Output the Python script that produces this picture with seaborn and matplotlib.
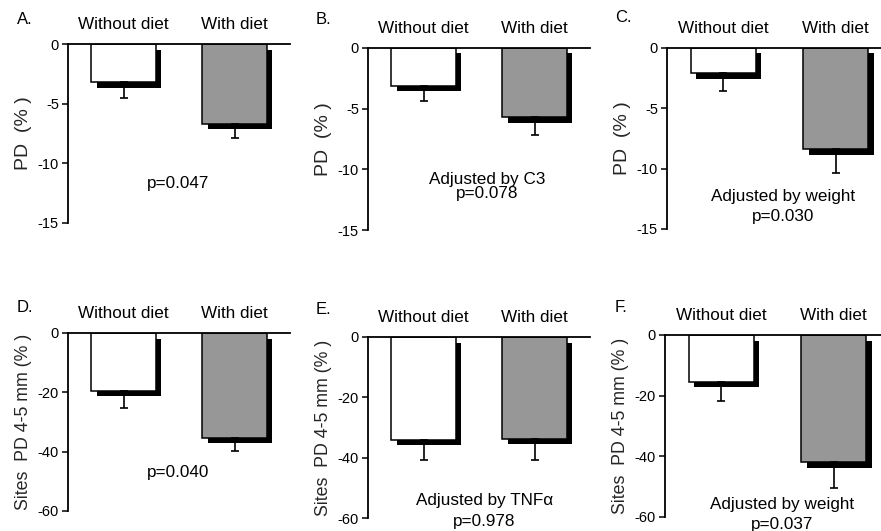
import matplotlib
matplotlib.use("Agg")
import matplotlib.pyplot as plt
from matplotlib.transforms import ScaledTranslation
import pandas as pd
import seaborn as sns

# ---- data -------------------------------------------------------------
groups = ["Without diet", "With diet"]

pd_mean_a = [-3.2, -6.7]
pd_err_a = [1.3, 1.2]
pd_mean_b = [-3.1, -5.7]
pd_err_b = [1.25, 1.5]
pd_mean_c = [-2.1, -8.4]
pd_err_c = [1.5, 2.0]

sites_mean_d = [-19.4, -35.3]
sites_err_d = [5.9, 4.5]
sites_mean_e = [-34.1, -33.8]
sites_err_e = [6.8, 6.9]
sites_mean_f = [-15.4, -41.9]
sites_err_f = [6.2, 8.7]

pd_ticks = [0, -5, -10, -15]
sites_ticks = [0, -20, -40, -60]

panel_letters = ["A.", "B.", "C.", "D.", "E.", "F."]
notes_a = ["p=0.047"]
notes_b = ["Adjusted by C3", "p=0.078"]
notes_c = ["Adjusted by weight", "p=0.030"]
notes_d = ["p=0.040"]
notes_e = ["Adjusted by TNFα", "p=0.978"]
notes_f = ["Adjusted by weight", "p=0.037"]

pd_label = "PD  (% )"
sites_label = "Sites  PD 4-5 mm (% )"

# ---- style ------------------------------------------------------------
sns.set_style("ticks")
plt.rcParams["font.family"] = ["Liberation Sans", "DejaVu Sans"]
plt.rcParams["axes.unicode_minus"] = False

W, H = 881, 531
fig = plt.figure(figsize=(W / 100, H / 100), dpi=100)


def px_axes(left, right, top, bottom):
    return fig.add_axes([left / W, (H - bottom) / H, (right - left) / W, (bottom - top) / H])


BAR_W = 0.58
SHADOW = ScaledTranslation(5.5 / 100, -5.5 / 100, fig.dpi_scale_trans)


def draw_panel(ax, means, errs, ticks, ylabel, label_size, notes, note_x, note_y):
    df = pd.DataFrame({"group": groups, "mean": means, "err": errs})
    # offset black shadow behind each bar
    sns.barplot(data=df, x="group", y="mean", color="black", width=BAR_W,
                errorbar=None, ax=ax, linewidth=0)
    for p in ax.patches:
        p.set_transform(ax.transData + SHADOW)
    # the bars themselves
    sns.barplot(data=df, x="group", y="mean", hue="group",
                palette=["white", "#979797"], width=BAR_W, errorbar=None,
                edgecolor="black", linewidth=1.1, legend=False, ax=ax)
    # lower error whiskers only
    ax.errorbar(range(len(groups)), df["mean"], yerr=[df["err"], [0] * len(groups)],
                fmt="none", ecolor="black", elinewidth=1.2, capsize=3.2,
                capthick=1.2, zorder=1)

    ax.set_xlim(-0.5, 1.5)
    ax.set_ylim(ticks[-1], 0)
    ax.set_yticks(ticks)
    ax.set_yticklabels([str(t) for t in ticks])
    ax.set_xlabel("")
    ax.set_ylabel(ylabel, fontsize=label_size, labelpad=4)

    ax.xaxis.tick_top()
    ax.tick_params(axis="x", length=0, pad=8.5, labelsize=12.3, colors="black")
    ax.tick_params(axis="y", direction="out", length=4, width=1.1, pad=2.5,
                   labelsize=10.5, colors="black")

    for side in ("bottom", "right"):
        ax.spines[side].set_visible(False)
    for side in ("top", "left"):
        ax.spines[side].set_linewidth(1.3)
        ax.spines[side].set_color("black")
    ax.patch.set_alpha(0)

    for text, y in zip(notes, note_y):
        ax.text(note_x, y, text, ha="center", va="baseline", fontsize=12.3,
                color="black", clip_on=False)


ax_a = px_axes(68, 290, 44, 223)
ax_b = px_axes(368, 590, 48, 230)
ax_c = px_axes(667, 892, 48, 229)
ax_d = px_axes(68, 290, 333, 511)
ax_e = px_axes(368, 590, 337, 518)
ax_f = px_axes(665, 890, 335, 517)

draw_panel(ax_a, pd_mean_a, pd_err_a, pd_ticks, pd_label, 14, notes_a, 0.49, [-12.1])
draw_panel(ax_b, pd_mean_b, pd_err_b, pd_ticks, pd_label, 14, notes_b, 0.57, [-11.2, -12.4])
draw_panel(ax_c, pd_mean_c, pd_err_c, pd_ticks, pd_label, 14, notes_c, 0.53, [-12.65, -14.3])
draw_panel(ax_d, sites_mean_d, sites_err_d, sites_ticks, sites_label, 12.8, notes_d, 0.49, [-48.7])
draw_panel(ax_e, sites_mean_e, sites_err_e, sites_ticks, sites_label, 12.8, notes_e, 0.55, [-55.8, -62.8])
draw_panel(ax_f, sites_mean_f, sites_err_f, sites_ticks, sites_label, 12.8, notes_f, 0.54, [-57.4, -63.8])

# panel letters
letter_pos = [(17, 19), (316, 19), (615, 17), (17, 308), (316, 310), (615, 307)]
for letter, (x, y) in zip(panel_letters, letter_pos):
    fig.text(x / W, 1 - y / H, letter, ha="left", va="center", fontsize=12, color="black")

fig.savefig("out.png", dpi=100, facecolor="white")
